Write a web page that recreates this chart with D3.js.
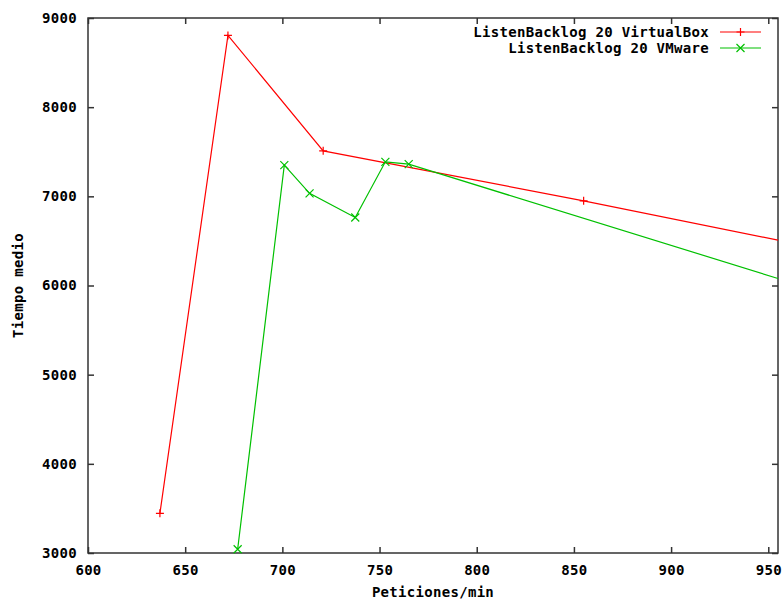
<!DOCTYPE html>
<html>
<head>
<meta charset="utf-8">
<script src="https://cdn.jsdelivr.net/npm/d3@7"></script>
<style>
  body { margin: 0; background: #fff; }
  svg text { font-family: "DejaVu Sans Mono", "Liberation Mono", monospace; font-weight: bold; font-size: 14px; letter-spacing: 0.3px; fill: #000; }
</style>
</head>
<body>
<div class="graph"></div>
<script>
// tick labels
const xTicks = [600, 650, 700, 750, 800, 850, 900, 950];
const yTicks = [3000, 4000, 5000, 6000, 7000, 8000, 9000];

// ListenBacklog 20 VirtualBox
const vboxX = [637, 672, 721, 855, 955];
const vboxY = [3445, 8805, 7510, 6950, 6508];

// ListenBacklog 20 VMware
const vmwareX = [677, 701, 714, 737.5, 753, 765, 955];
const vmwareY = [3042, 7350, 7033, 6763, 7387, 7361, 6079];

const seriesNames = ['ListenBacklog 20 VirtualBox', 'ListenBacklog 20 VMware'];

const margin = {top: 18, right: 6, bottom: 48, left: 88},
    width = 784 - margin.left - margin.right,
    height = 601 - margin.top - margin.bottom;

const scaleX = d3.scaleLinear().domain([600, 955]).range([0, width]);
const scaleY = d3.scaleLinear().domain([3000, 9000]).range([height, 0]);

const svg = d3.select('.graph').append('svg')
    .attr('width', 784)
    .attr('height', 601);

const g = svg.append('g')
    .attr('transform', 'translate(' + margin.left + ',' + margin.top + ')');

g.append('clipPath').attr('id', 'clip')
  .append('rect').attr('width', width + 2).attr('height', height);

// axes, gnuplot style: inward ticks mirrored on the opposite side
const tick = 6;
const xAxis = d3.axisBottom(scaleX).tickValues(xTicks).tickSize(-tick).tickPadding(12).tickFormat(d3.format('d'));
const yAxis = d3.axisLeft(scaleY).tickValues(yTicks).tickSize(-tick).tickPadding(11).tickFormat(d3.format('d'));
const xTop = d3.axisTop(scaleX).tickValues(xTicks).tickSize(-tick).tickFormat('');
const yRight = d3.axisRight(scaleY).tickValues(yTicks).tickSize(-tick).tickFormat('');

g.append('g').attr('class', 'axis').attr('transform', 'translate(0,' + height + ')').call(xAxis);
g.append('g').attr('class', 'axis').call(yAxis);
g.append('g').attr('class', 'axis').call(xTop);
g.append('g').attr('class', 'axis').attr('transform', 'translate(' + width + ',0)').call(yRight);

g.selectAll('.axis .domain').remove();
g.selectAll('.axis line').attr('stroke', '#333').attr('stroke-width', 1.5);
g.selectAll('.axis text').attr('font-size', null);

g.append('rect')
    .attr('width', width).attr('height', height)
    .attr('fill', 'none').attr('stroke', '#333').attr('stroke-width', 1.5);

// axis titles
svg.append('text')
    .attr('x', margin.left + width / 2).attr('y', 597)
    .attr('text-anchor', 'middle')
    .text('Peticiones/min');

svg.append('text')
    .attr('transform', 'translate(23,' + (margin.top + height / 2) + ') rotate(-90)')
    .attr('text-anchor', 'middle')
    .text('Tiempo medio');

const series = [
  {name: seriesNames[0], xs: vboxX, ys: vboxY, color: '#ff0000', mark: 'plus'},
  {name: seriesNames[1], xs: vmwareX, ys: vmwareY, color: '#00c000', mark: 'cross'}
];

const line = d3.line().x(d => scaleX(d[0])).y(d => scaleY(d[1]));

function marker(sel, type, color) {
  const s = 4;
  const p = type === 'plus'
    ? `M${-s},0H${s}M0,${-s}V${s}`
    : `M${-s},${-s}L${s},${s}M${-s},${s}L${s},${-s}`;
  sel.append('path').attr('d', p).attr('stroke', color).attr('stroke-width', 1.2).attr('fill', 'none');
}

series.forEach(s => {
  const pts = s.xs.map((x, i) => [x, s.ys[i]]);
  g.append('path')
      .datum(pts)
      .attr('clip-path', 'url(#clip)')
      .attr('fill', 'none')
      .attr('stroke', s.color)
      .attr('stroke-width', 1.2)
      .attr('d', line);

  pts.filter(d => d[0] < scaleX.domain()[1]).forEach(d => {
    const m = g.append('g').attr('transform', 'translate(' + scaleX(d[0]) + ',' + scaleY(d[1]) + ')');
    marker(m, s.mark, s.color);
  });
});

// legend
const legend = svg.append('g').attr('transform', 'translate(709,32)');
series.forEach((s, i) => {
  const row = legend.append('g').attr('transform', 'translate(0,' + (i * 16) + ')');
  row.append('text').attr('text-anchor', 'end').attr('dy', '0.35em').text(s.name);
  row.append('line').attr('x1', 11).attr('x2', 52).attr('stroke', s.color).attr('stroke-width', 1.2);
  const m = row.append('g').attr('transform', 'translate(31.5,0)');
  marker(m, s.mark, s.color);
});
</script>
</body>
</html>
